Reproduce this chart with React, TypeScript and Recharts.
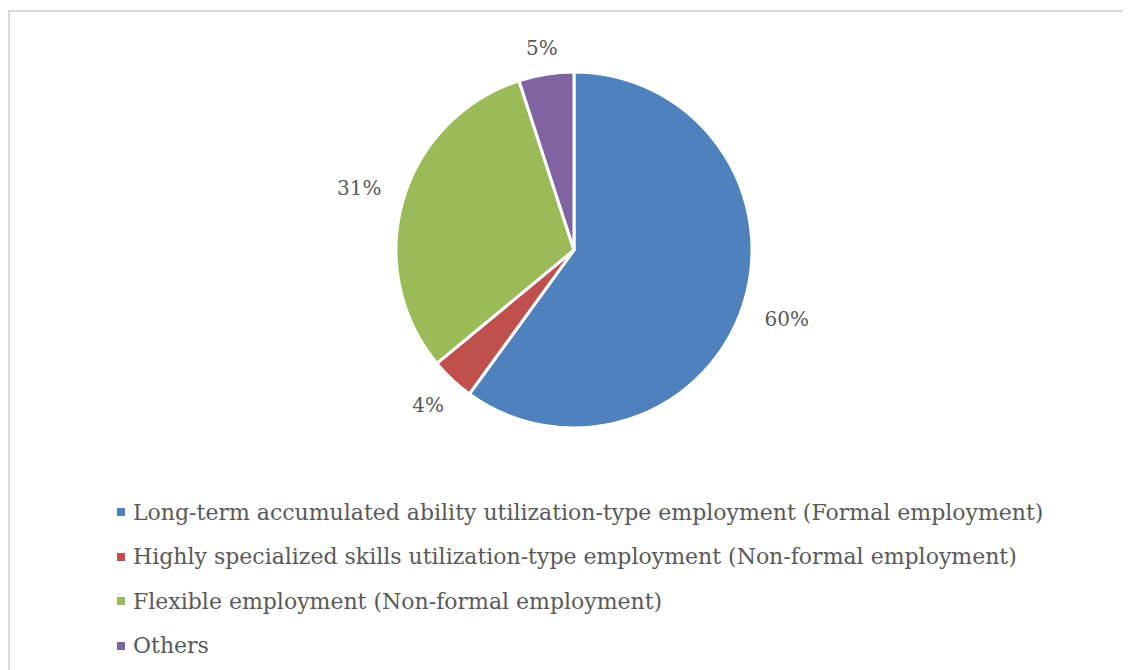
import React from "react";
import { PieChart, Pie, Cell, Legend } from "recharts";

// employment type shares (%)
const categories = [
  "Long-term accumulated ability utilization-type employment (Formal employment)",
  "Highly specialized skills utilization-type employment (Non-formal employment)",
  "Flexible employment (Non-formal employment)",
  "Others",
];
const shares = [60, 4, 31, 5];
const colors = ["#4F81BD", "#C0504D", "#9BBB59", "#8064A2"];

const chartData = categories.map((name, i) => ({ name, value: shares[i] }));

const FONT = "'DejaVu Serif', serif";
const TEXT = "#595959";
const RAD = Math.PI / 180;

// label sits just outside the slice, pushed out by its own box size
const renderLabel = (props: any) => {
  const { cx, cy, midAngle, outerRadius, percent } = props;
  const txt = `${Math.round(percent * 100)}%`;
  const w = txt.length * 20;
  const h = 20;
  const c = Math.cos(-midAngle * RAD);
  const s = Math.sin(-midAngle * RAD);
  const r = outerRadius + 14 + Math.abs(c) * (w / 2) + Math.abs(s) * (h / 2);
  return (
    <text
      x={cx + r * c}
      y={cy + r * s}
      fill={TEXT}
      fontFamily={FONT}
      fontSize={20}
      textAnchor="middle"
      dominantBaseline="central"
    >
      {txt}
    </text>
  );
};

const renderLegend = (props: any) => {
  const payload = [...(props.payload || [])].sort(
    (a: any, b: any) => categories.indexOf(a.value) - categories.indexOf(b.value)
  );
  return (
    <div>
      {payload.map((entry: any, i: number) => (
        <div
          key={i}
          style={{
            display: "flex",
            alignItems: "center",
            height: 44.5,
            fontFamily: FONT,
            fontSize: 22,
            color: TEXT,
            whiteSpace: "nowrap",
          }}
        >
          <span
            style={{
              display: "inline-block",
              width: 8,
              height: 8,
              background: entry.color,
              marginRight: 8,
            }}
          />
          {entry.value}
        </div>
      ))}
    </div>
  );
};

export default function App() {
  return (
    <div
      style={{
        marginTop: 2,
        width: 1123,
        height: 660,
        borderTop: "2px solid #d9d9d9",
        borderLeft: "2px solid #d9d9d9",
        background: "#fff",
        overflow: "hidden",
      }}
    >
      <PieChart
        width={1121}
        height={658}
        margin={{ top: 0, right: 0, bottom: 0, left: 0 }}
      >
        <Pie
          data={chartData}
          dataKey="value"
          nameKey="name"
          cx={564}
          cy={238}
          outerRadius={178}
          startAngle={90}
          endAngle={-270}
          stroke="#fff"
          strokeWidth={3}
          label={renderLabel}
          labelLine={false}
          isAnimationActive={false}
        >
          {chartData.map((d, i) => (
            <Cell key={d.name} fill={colors[i]} />
          ))}
        </Pie>
        <Legend
          layout="horizontal"
          align="left"
          verticalAlign="bottom"
          content={renderLegend}
          wrapperStyle={{ left: 107, top: 478, bottom: "auto", width: 1000 }}
        />
      </PieChart>
    </div>
  );
}
